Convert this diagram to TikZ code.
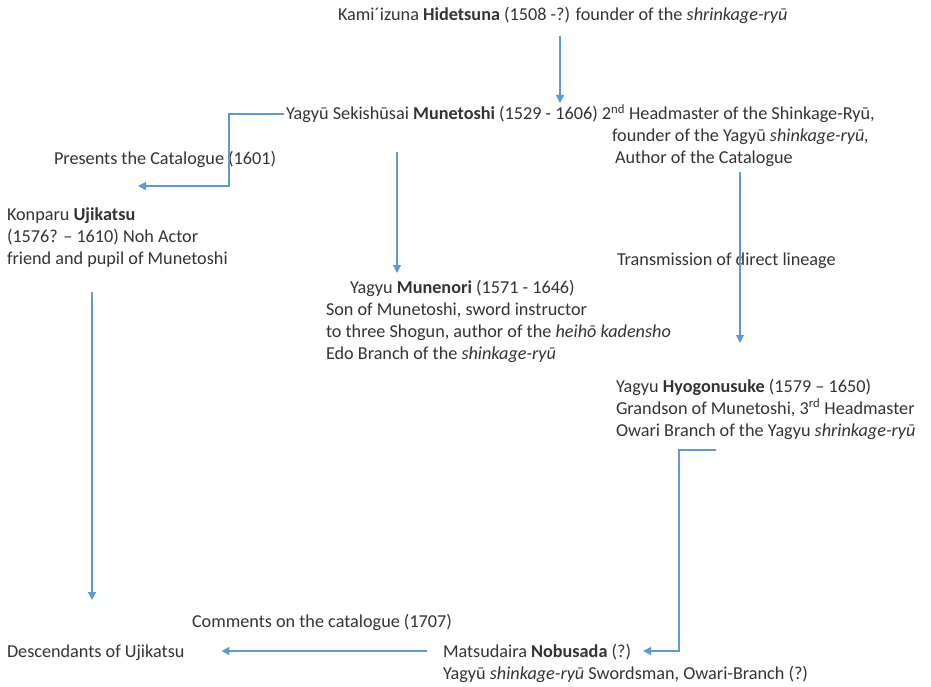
\documentclass[tikz,border=0pt]{standalone}
\usepackage{fontspec}
\setmainfont{Carlito}
\usepackage{tikz}
\usetikzlibrary{arrows.meta,calc}
\definecolor{linkblue}{HTML}{5B9BD5}
\definecolor{inkgray}{HTML}{333333}

\begin{document}
\begin{tikzpicture}[x=1pt,y=-1pt,
	lbl/.style={anchor=north west,inner sep=0,outer sep=0,align=left,text=inkgray,font=\fontsize{18.2}{22}\selectfont},
	arr/.style={linkblue,line width=1.2pt,-{Triangle[length=8pt,width=8pt]}}]
	\useasboundingbox (0,0) rectangle (931,687);

	% Founders
	\node[lbl] (hide) at (338,5.6) {\strut Kami´izuna \textbf{Hidetsuna} (1508 -?) founder of the \textit{shrinkage-ryū}\strut};
	\node[lbl] (mune) at (286,104.6) {\strut Yagyū Sekishūsai \textbf{Munetoshi} (1529 - 1606) 2\textsuperscript{nd} Headmaster of the Shinkage-Ryū,\\
		\hspace*{326pt}founder of the Yagyū \textit{shinkage-ryū,}\\
		\hspace*{329pt}Author of the Catalogue\strut};

	% Left branch
	\node[lbl] (pres) at (54,149.6) {\strut Presents the Catalogue (1601)\strut};
	\node[lbl] (uji) at (7,204.6) {\strut Konparu \textbf{Ujikatsu}\\(1576? – 1610) Noh Actor\\friend and pupil of Munetoshi\strut};
	\node[lbl] (desc) at (7,641.6) {\strut Descendants of Ujikatsu\strut};
	\node[lbl] (comm) at (192,611.6) {\strut Comments on the catalogue (1707)\strut};

	% Middle branch
	\node[lbl] (muno) at (326,277.6) {\strut\hspace*{24pt}Yagyu \textbf{Munenori} (1571 - 1646)\\
		Son of Munetoshi, sword instructor\\
		to three Shogun, author of the \textit{heihō kadensho}\\
		Edo Branch of the \textit{shinkage-ryū}\strut};

	% Right branch
	\node[lbl] (trans) at (617,249.6) {\strut Transmission of direct lineage\strut};
	\node[lbl] (hyo) at (616,376.6) {\strut Yagyu \textbf{Hyogonusuke} (1579 – 1650)\\
		Grandson of Munetoshi, 3\textsuperscript{rd} Headmaster\\
		Owari Branch of the Yagyu \textit{shrinkage-ryū}\strut};
	\node[lbl] (nobu) at (443,641.6) {\strut Matsudaira \textbf{Nobusada} (?)\\
		Yagyū \textit{shinkage-ryū} Swordsman, Owari-Branch (?)\strut};

	% Arrows
	\draw[arr,shorten <=8.4pt,shorten >=1.6pt] (hide.south -| 560,0) -- (mune.north -| 560,0);
	\draw[arr] ($(mune.north west)+(-2,9.4)$) -- ++(-55,0) |- ($(uji.north west)+(131,-18.6)$);
	\draw[arr,shorten >=4.6pt] ($(mune.north -| 397,0)+(0,47.4)$) -- (muno.north -| 397,0);
	\draw[arr,shorten <=1.4pt,shorten >=33.6pt] (mune.south -| 740,0) -- (hyo.north -| 740,0);
	\draw[arr,shorten <=21.4pt,shorten >=41.6pt] (uji.south -| 92,0) -- (desc.north -| 92,0);
	\draw[arr] ($(hyo.south west)+(100,7.4)$) -- ++(-37,0) |- ($(nobu.north west)+(200,9.4)$);
	\coordinate (nobuL) at ($(nobu.north west)+(-16,9.4)$);
	\draw[arr,shorten >=37pt] (nobuL) -- (desc.east |- nobuL);
\end{tikzpicture}
\end{document}
